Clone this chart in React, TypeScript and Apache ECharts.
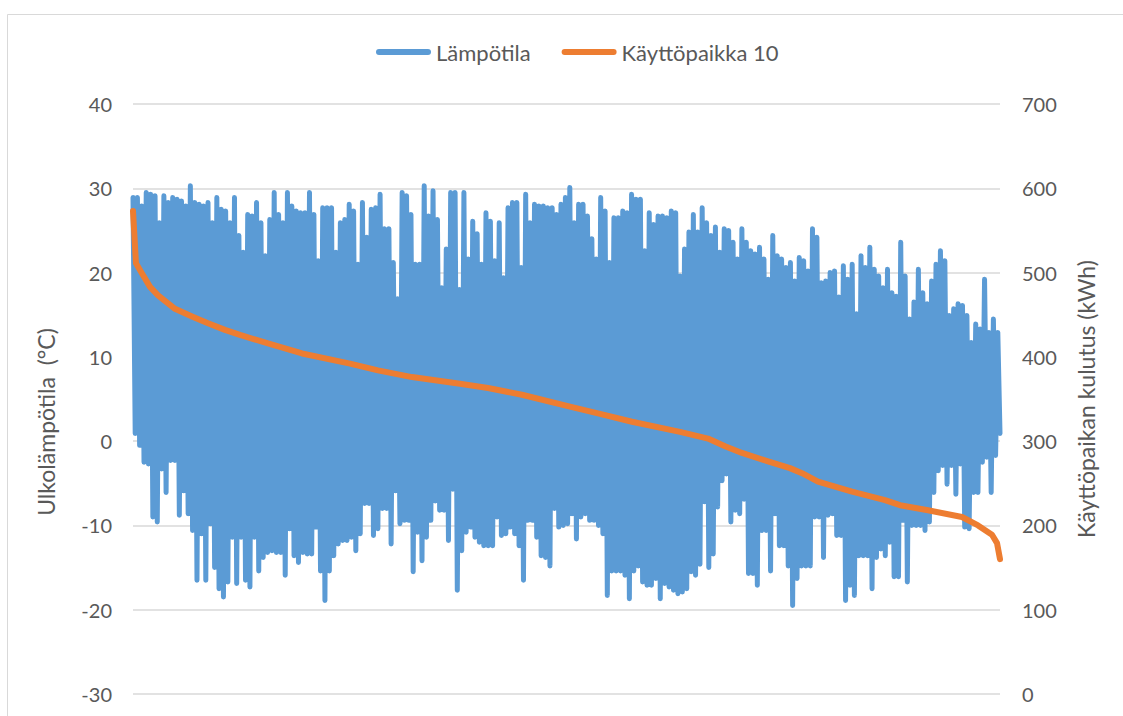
import React, { useEffect, useRef } from "react";
import * as echarts from "echarts";

// Series names and axis titles
const seriesNames = ["Lämpötila", "Käyttöpaikka 10"];
const leftAxisTitle = "Ulkolämpötila  (°C)";
const rightAxisTitle = "Käyttöpaikan kulutus (kWh)";

// Left axis (°C) and right axis (kWh) ranges
const leftMin = -30;
const leftMax = 40;
const leftStep = 10;
const rightMin = 0;
const rightMax = 700;
const rightStep = 100;

// Hours of the year on the (hidden) x axis
const hoursInYear = 8760;

// Temperature: upper peaks, left to right (°C)
const tempHigh = [
  28.9, 28.9, 27.9, 29.5, 29.3, 29.1, 25.9, 29.1, 28.3, 28.9, 28.7, 28.5, 27.9, 30.3, 28.3, 28.1, 27.9, 28.3, 25.9, 28.9, 27.5, 27.3, 25.9,
  28.9, 24.4, 22.4, 26.9, 26.7, 28.3, 25.9, 22.0, 26.3, 29.5, 26.9, 25.9, 29.5, 27.9, 27.3, 27.1, 27.1, 29.5, 26.9, 21.4, 27.7, 27.7, 27.7, 22.4, 25.9,
  26.3, 28.1, 27.3, 21.0, 28.3, 24.2, 27.5, 27.7, 29.3, 25.2, 25.2, 21.2, 16.9, 29.5, 29.1, 26.9, 21.0, 21.0, 30.3, 26.7, 29.7, 26.3, 18.2, 22.8, 29.5,
  29.5, 18.0, 29.5, 21.6, 26.1, 24.6, 21.0, 27.1, 26.1, 21.4, 25.9, 19.4, 27.7, 28.3, 28.3, 20.6, 29.3, 25.9, 28.1, 27.9, 27.9, 27.7, 27.7, 26.9, 28.1,
  28.9, 30.1, 25.9, 28.1, 28.1, 26.7, 24.0, 21.6, 28.9, 27.3, 21.2, 26.5, 26.5, 27.3, 27.1, 29.3, 28.7, 28.7, 22.6, 27.1, 25.7, 26.7, 26.7, 26.5, 27.3,
  27.1, 19.6, 22.8, 24.8, 26.9, 24.8, 27.7, 25.9, 24.4, 25.4, 22.4, 25.2, 25.0, 23.6, 21.6, 25.2, 23.6, 22.6, 22.2, 23.0, 21.6, 19.2, 24.4, 22.0, 21.6,
  20.6, 21.2, 19.0, 21.8, 21.4, 20.2, 25.2, 24.2, 18.8, 19.0, 20.0, 20.2, 17.1, 20.8, 19.2, 21.0, 15.1, 22.0, 20.6, 23.0, 20.4, 19.6, 18.2, 20.4, 17.6,
  17.2, 23.6, 19.6, 14.5, 16.5, 20.4, 17.6, 16.3, 19.0, 21.0, 22.6, 21.4, 14.9, 15.7, 16.3, 16.1, 14.9, 11.7, 13.9, 13.3, 19.2, 12.9, 14.5, 12.9,
];

// Temperature: lower troughs, left to right (°C)
const tempLow = [
  0.9, -0.5, -2.5, -2.7, -9.0, -9.6, -3.3, -6.1, -2.3, -2.3, -8.8, -5.9, -8.6, -10.6, -16.5, -11.0, -16.5, -9.8, -15.0, -17.5, -18.5, -16.7, -11.4,
  -16.9, -11.4, -16.5, -17.3, -11.4, -15.4, -13.8, -13.2, -13.0, -13.2, -13.2, -15.9, -10.4, -13.6, -14.4, -13.2, -13.4, -13.4, -10.2, -15.4, -18.9, -15.4, -13.6, -12.2, -11.8,
  -11.8, -11.4, -13.0, -11.0, -7.4, -7.4, -11.2, -10.4, -8.0, -8.0, -12.2, -5.9, -9.8, -9.4, -9.4, -15.5, -10.8, -14.2, -11.4, -9.4, -7.1, -8.2, -8.2, -11.8, -5.7,
  -17.7, -13.0, -10.8, -10.2, -11.4, -12.0, -12.4, -12.4, -12.4, -9.0, -11.2, -11.0, -10.2, -11.0, -12.4, -16.5, -9.4, -9.4, -11.4, -13.6, -13.8, -14.8, -8.0, -10.2, -10.0,
  -9.8, -8.6, -11.6, -9.0, -8.6, -9.4, -9.4, -10.0, -11.0, -18.3, -15.4, -15.4, -15.4, -15.9, -18.7, -15.4, -14.8, -16.7, -17.1, -17.1, -16.3, -18.7, -16.9, -17.3, -17.7,
  -18.1, -17.9, -17.5, -15.5, -15.9, -14.6, -7.2, -15.0, -13.4, -7.8, -4.7, -3.9, -9.6, -8.2, -8.6, -6.9, -15.7, -15.7, -17.1, -10.6, -10.6, -15.4, -8.6, -12.4, -12.4,
  -14.8, -19.5, -16.3, -14.8, -14.8, -14.8, -9.0, -9.0, -13.8, -8.8, -8.6, -11.2, -11.2, -18.9, -17.1, -18.3, -13.6, -13.6, -13.6, -17.5, -13.8, -12.8, -13.6, -12.0, -16.1,
  -16.1, -9.4, -16.7, -10.0, -10.0, -10.0, -10.6, -9.6, -6.1, -3.5, -2.9, -5.1, -2.9, -6.3, -2.7, -10.2, -10.4, -6.1, -6.1, -2.5, -1.9, -6.1, -1.7, 0.9,
];

// Consumption duration curve (kWh), read at these hour positions
const loadHours = [
  0, 30, 91, 172, 253, 424, 596, 758, 929, 1081, 1364, 1708, 2193, 2475, 2819, 3304, 3587, 3930, 4415, 4698,
  5042, 5527, 5810, 5982, 6153, 6416, 6638, 6760, 6921, 7265, 7598, 7750, 8033, 8376, 8538, 8679, 8730, 8760,
];
const loadKwh = [
  573, 511, 499, 483, 473, 457, 448, 440, 432, 426, 416, 404, 392, 384, 376, 368, 363, 355, 341, 333,
  323, 311, 303, 294, 286, 276, 268, 262, 252, 240, 230, 224, 218, 210, 200, 189, 179, 160,
];

const BLUE = "#5B9BD5";
const ORANGE = "#ED7D31";
const TEXT = "#595959";
const GRID = "#D9D9D9";
const FONT = "Lato";

export default function App() {
  const ref = useRef<HTMLDivElement>(null);

  useEffect(() => {
    if (!ref.current) return;
    const chart = echarts.init(ref.current, null, { renderer: "svg" });

    const n = tempHigh.length;
    const step = hoursInYear / (2 * n - 1);
    const tempData: number[][] = [];
    for (let i = 0; i < n; i++) {
      tempData.push([2 * i * step, tempHigh[i]]);
      tempData.push([(2 * i + 1) * step, tempLow[i]]);
    }
    const loadData = loadHours.map((h, i) => [h, loadKwh[i]]);

    const legendIcon = "path://M3,0H52A3,3,0,0,1,52,6H3A3,3,0,0,1,3,0Z";

    chart.setOption({
      animation: false,
      textStyle: { fontFamily: FONT },
      grid: { left: 133, right: 123, top: 104, bottom: 22, containLabel: false },
      legend: {
        left: 371,
        top: 36,
        itemWidth: 55,
        itemHeight: 6,
        itemGap: 31,
        icon: legendIcon,
        textStyle: { color: TEXT, fontSize: 22, fontFamily: FONT },
        data: [
          { name: seriesNames[0], icon: legendIcon, itemStyle: { color: BLUE } },
          { name: seriesNames[1], icon: legendIcon, itemStyle: { color: ORANGE } },
        ],
      },
      xAxis: { type: "value", min: 0, max: hoursInYear, show: false },
      yAxis: [
        {
          type: "value",
          min: leftMin,
          max: leftMax,
          interval: leftStep,
          axisLine: { show: false },
          axisTick: { show: false },
          axisLabel: { color: TEXT, fontSize: 20, margin: 21, fontFamily: FONT },
          splitLine: { show: true, lineStyle: { color: GRID, width: 1.5 } },
        },
        {
          type: "value",
          position: "right",
          min: rightMin,
          max: rightMax,
          interval: rightStep,
          axisLine: { show: false },
          axisTick: { show: false },
          axisLabel: { color: TEXT, fontSize: 20, margin: 22, fontFamily: FONT },
          splitLine: { show: false },
        },
      ],
      series: [
        {
          name: seriesNames[0],
          type: "line",
          yAxisIndex: 0,
          data: tempData,
          symbol: "none",
          showSymbol: false,
          lineStyle: { color: BLUE, width: 5, cap: "round", join: "round" },
          itemStyle: { color: BLUE },
          z: 2,
        },
        {
          name: seriesNames[1],
          type: "line",
          yAxisIndex: 1,
          data: loadData,
          symbol: "none",
          showSymbol: false,
          smooth: false,
          lineStyle: { color: ORANGE, width: 6, cap: "round", join: "round" },
          itemStyle: { color: ORANGE },
          z: 3,
        },
      ],
      graphic: [
        {
          type: "rect",
          silent: true,
          z: -10,
          shape: { x: 7.5, y: 14.5, width: 1140, height: 740 },
          style: { fill: "none", stroke: GRID, lineWidth: 1 },
        },
        {
          type: "text",
          x: 46,
          y: 422,
          rotation: Math.PI / 2,
          style: {
            text: leftAxisTitle,
            fill: TEXT,
            fontSize: 23,
            fontFamily: FONT,
            align: "center",
            verticalAlign: "middle",
          },
        },
        {
          type: "text",
          x: 1086,
          y: 399,
          rotation: Math.PI / 2,
          style: {
            text: rightAxisTitle,
            fill: TEXT,
            fontSize: 23,
            fontFamily: FONT,
            align: "center",
            verticalAlign: "middle",
          },
        },
      ],
    });

    return () => chart.dispose();
  }, []);

  return (
    <div
      ref={ref}
      style={{ position: "fixed", left: 0, top: 0, width: 1123, height: 716, background: "#fff" }}
    />
  );
}
